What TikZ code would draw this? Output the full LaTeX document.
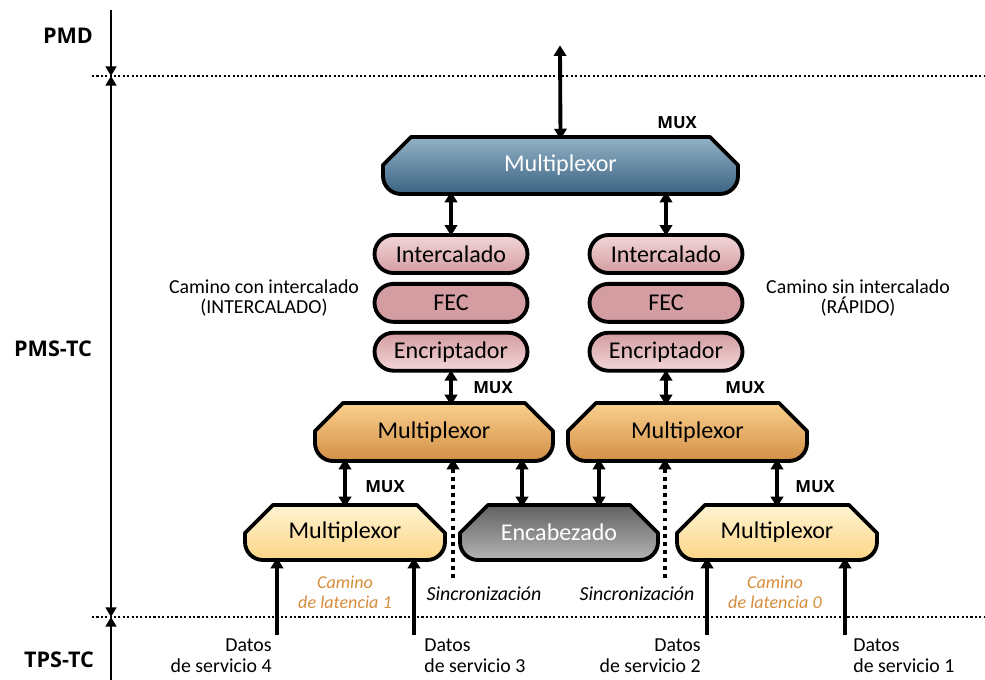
\documentclass[tikz,border=0pt]{standalone}
\usepackage{fontspec}
\setmainfont{Carlito}
\newfontfamily\layerfont{Open Sans}
\usepackage{tikz}
\usetikzlibrary{arrows.meta, positioning, fit}
\definecolor{bluetop}{HTML}{92B2C6}
\definecolor{bluebot}{HTML}{3B6382}
\definecolor{orgtop}{HTML}{FAD08E}
\definecolor{orgbot}{HTML}{D28F45}
\definecolor{yeltop}{HTML}{FFF4D2}
\definecolor{yelbot}{HTML}{FBD585}
\definecolor{graytop}{HTML}{626262}
\definecolor{graybot}{HTML}{B4B4B4}
\definecolor{pinklt}{HTML}{F2D6D8}
\definecolor{pinkmd}{HTML}{D39DA1}
\definecolor{pinkdk}{HTML}{C0797E}
\definecolor{latency}{HTML}{D68D3C}
\newcommand{\boxfont}{\fontsize{13.7pt}{16pt}\selectfont}
\newcommand{\notefont}{\fontsize{11.3pt}{11.9pt}\selectfont}
% mux block: name, x1, y1, x2, y2, shading, text colour, text
\newcommand{\muxblock}[8]{%
  \path[muxline, #6] ({#2+28},#3) -- ({#4-28},#3) -- (#4,{#3+28})
    -- (#4,{#5-18}) arc[start angle=0, end angle=-90, radius=0.36cm]
    -- ({#2+18},#5) arc[start angle=270, end angle=180, radius=0.36cm]
    -- (#2,{#3+28}) -- cycle;
  \node[fit={(#2,#3) (#4,#5)}, inner sep=0pt] (#1) {};
  \node[font=\boxfont, text=#7] (#1-t) at (#1.center) {#8};}

\begin{document}
\begin{tikzpicture}[
  x=0.02cm, y=-0.02cm,
  muxline/.style={draw, line width=2.2pt, line join=round},
  pill/.style={draw, line width=2.2pt, rounded corners=0.38cm, minimum width=3.06cm, minimum height=0.76cm, font=\boxfont},
  dbl/.style={{Triangle[length=6pt,width=7pt]}-{Triangle[length=6pt,width=7pt]}, line width=2.2pt, shorten <=-1.5pt, shorten >=-1.5pt},
  up/.style={-{Triangle[length=6pt,width=7pt]}, line width=2.2pt, shorten >=-1.5pt},
  sync/.style={-{Triangle[length=6pt,width=7pt]}, line width=2.2pt, dash pattern=on 2.2pt off 2.4pt, shorten >=-1.5pt},
  axis/.style={line width=1.1pt},
  sep/.style={line width=1.2pt, dash pattern=on 1.2pt off 1.3pt},
  layer/.style={font=\layerfont\bfseries\fontsize{12.3pt}{14pt}\selectfont},
  muxlbl/.style={font=\layerfont\bfseries\fontsize{9.5pt}{11pt}\selectfont},
  note/.style={font=\notefont, align=center},
  datos/.style={font=\notefont, inner sep=0pt},
  lat/.style={font=\itshape\fontsize{10.3pt}{11.2pt}\selectfont, text=latency, align=center}
]
\useasboundingbox (0,0) rectangle (985,680);

% layers
\coordinate (ax0) at (111,10);
\coordinate (ax1) at (111,76);
\coordinate (ax2) at (111,617);
\coordinate (ax3) at (111,680);
\coordinate (s1l) at (92,76);
\coordinate (s1r) at (985,76);
\coordinate (s2l) at (92,617);
\coordinate (s2r) at (985,617);
\draw[sep] (s1l) -- (s1r);
\draw[sep] (s2l) -- (s2r);
\draw[axis, -{Triangle[length=5.5pt,width=6.2pt]}] (ax0) -- (ax1);
\draw[axis, {Triangle[length=5.5pt,width=6.2pt]}-{Triangle[length=5.5pt,width=6.2pt]}] (ax1) -- (ax2);
\draw[axis, {Triangle[length=5.5pt,width=6.2pt]}-] (ax2) -- (ax3);
\node[layer] (pmd) at (68,36) {PMD};
\node[layer] (pms) at (53,349) {PMS-TC};
\node[layer] (tps) at (59,660) {TPS-TC};

% multiplexors
\muxblock{bm}{383}{137}{738}{194}{top color=bluetop, bottom color=bluebot}{white}{Multiplexor}
\muxblock{oml}{315}{403}{553}{461}{top color=orgtop, bottom color=orgbot}{black}{Multiplexor}
\muxblock{omr}{568}{403}{807}{461}{top color=orgtop, bottom color=orgbot}{black}{Multiplexor}
\muxblock{sml}{245}{505}{445}{560}{top color=yeltop, bottom color=yelbot}{black}{Multiplexor}
\muxblock{enc}{460}{505}{658}{560}{top color=graytop, bottom color=graybot}{white}{Encabezado}
\muxblock{smr}{677}{505}{877}{560}{top color=yeltop, bottom color=yelbot}{black}{Multiplexor}
\node[muxlbl] (mx0) at (677,123) {MUX};
\node[muxlbl] (mx1) at (493,388) {MUX};
\node[muxlbl] (mx2) at (745,388) {MUX};
\node[muxlbl] (mx3) at (385,487) {MUX};
\node[muxlbl] (mx4) at (815,487) {MUX};

% interleaved / fast paths
\node[pill, top color=pinklt, middle color=pinkmd!80!pinklt, bottom color=pinkmd] (il) at (451,254) {Intercalado};
\node[pill, top color=pinkmd, middle color=pinkdk, bottom color=pinkmd, below=0.14cm of il] (fl) {FEC};
\node[pill, top color=pinkmd, middle color=pinkmd!70!pinklt, bottom color=pinklt, below=0.14cm of fl] (el) {Encriptador};
\node[pill, top color=pinklt, middle color=pinkmd!80!pinklt, bottom color=pinkmd] (ir) at (666,254) {Intercalado};
\node[pill, top color=pinkmd, middle color=pinkdk, bottom color=pinkmd, below=0.14cm of ir] (fr) {FEC};
\node[pill, top color=pinkmd, middle color=pinkmd!70!pinklt, bottom color=pinklt, below=0.14cm of fr] (er) {Encriptador};
\node[note] (cl) at (264,298) {Camino con intercalado\\(INTERCALADO)};
\node[note] (cr) at (858,298) {Camino sin intercalado\\(RÁPIDO)};

% connections
\coordinate (top) at (560,48);
\draw[dbl] (top) -- (bm.north);
\draw[dbl] (bm.south -| il.north) -- (il.north);
\draw[dbl] (bm.south -| ir.north) -- (ir.north);
\draw[dbl] (el.south) -- (oml.north -| el.south);
\draw[dbl] (er.south) -- (omr.north -| er.south);
\draw[dbl] (oml.south -| sml.north) -- (sml.north);
\draw[dbl] (oml.south -| 522,0) -- (enc.north -| 522,0);
\draw[dbl] (omr.south -| 599,0) -- (enc.north -| 599,0);
\draw[dbl] (omr.south -| smr.north) -- (smr.north);

% synchronisation
\coordinate (syl) at (453,578);
\coordinate (syr) at (665,578);
\draw[sync] (syl) -- (oml.south -| syl);
\draw[sync] (syr) -- (omr.south -| syr);
\node[font=\itshape\notefont] (snl) at (484,594) {Sincronización};
\node[font=\itshape\notefont] (snr) at (637,594) {Sincronización};

% service data
\coordinate (d4) at (277,635);
\coordinate (d3) at (414,635);
\coordinate (d2) at (707,635);
\coordinate (d1) at (845,635);
\draw[up] (d4) -- (sml.south -| d4);
\draw[up] (d3) -- (sml.south -| d3);
\draw[up] (d2) -- (smr.south -| d2);
\draw[up] (d1) -- (smr.south -| d1);
\node[datos, align=right, anchor=north east] (t4) at (272,638) {Datos\\de servicio 4};
\node[datos, align=left, anchor=north west] (t3) at (424,638) {Datos\\de servicio 3};
\node[datos, align=right, anchor=north east] (t2) at (701,638) {Datos\\de servicio 2};
\node[datos, align=left, anchor=north west] (t1) at (853,638) {Datos\\de servicio 1};
\node[lat] (l1) at (345,592) {Camino\\de latencia 1};
\node[lat] (l0) at (775,592) {Camino\\de latencia 0};
\end{tikzpicture}
\end{document}
